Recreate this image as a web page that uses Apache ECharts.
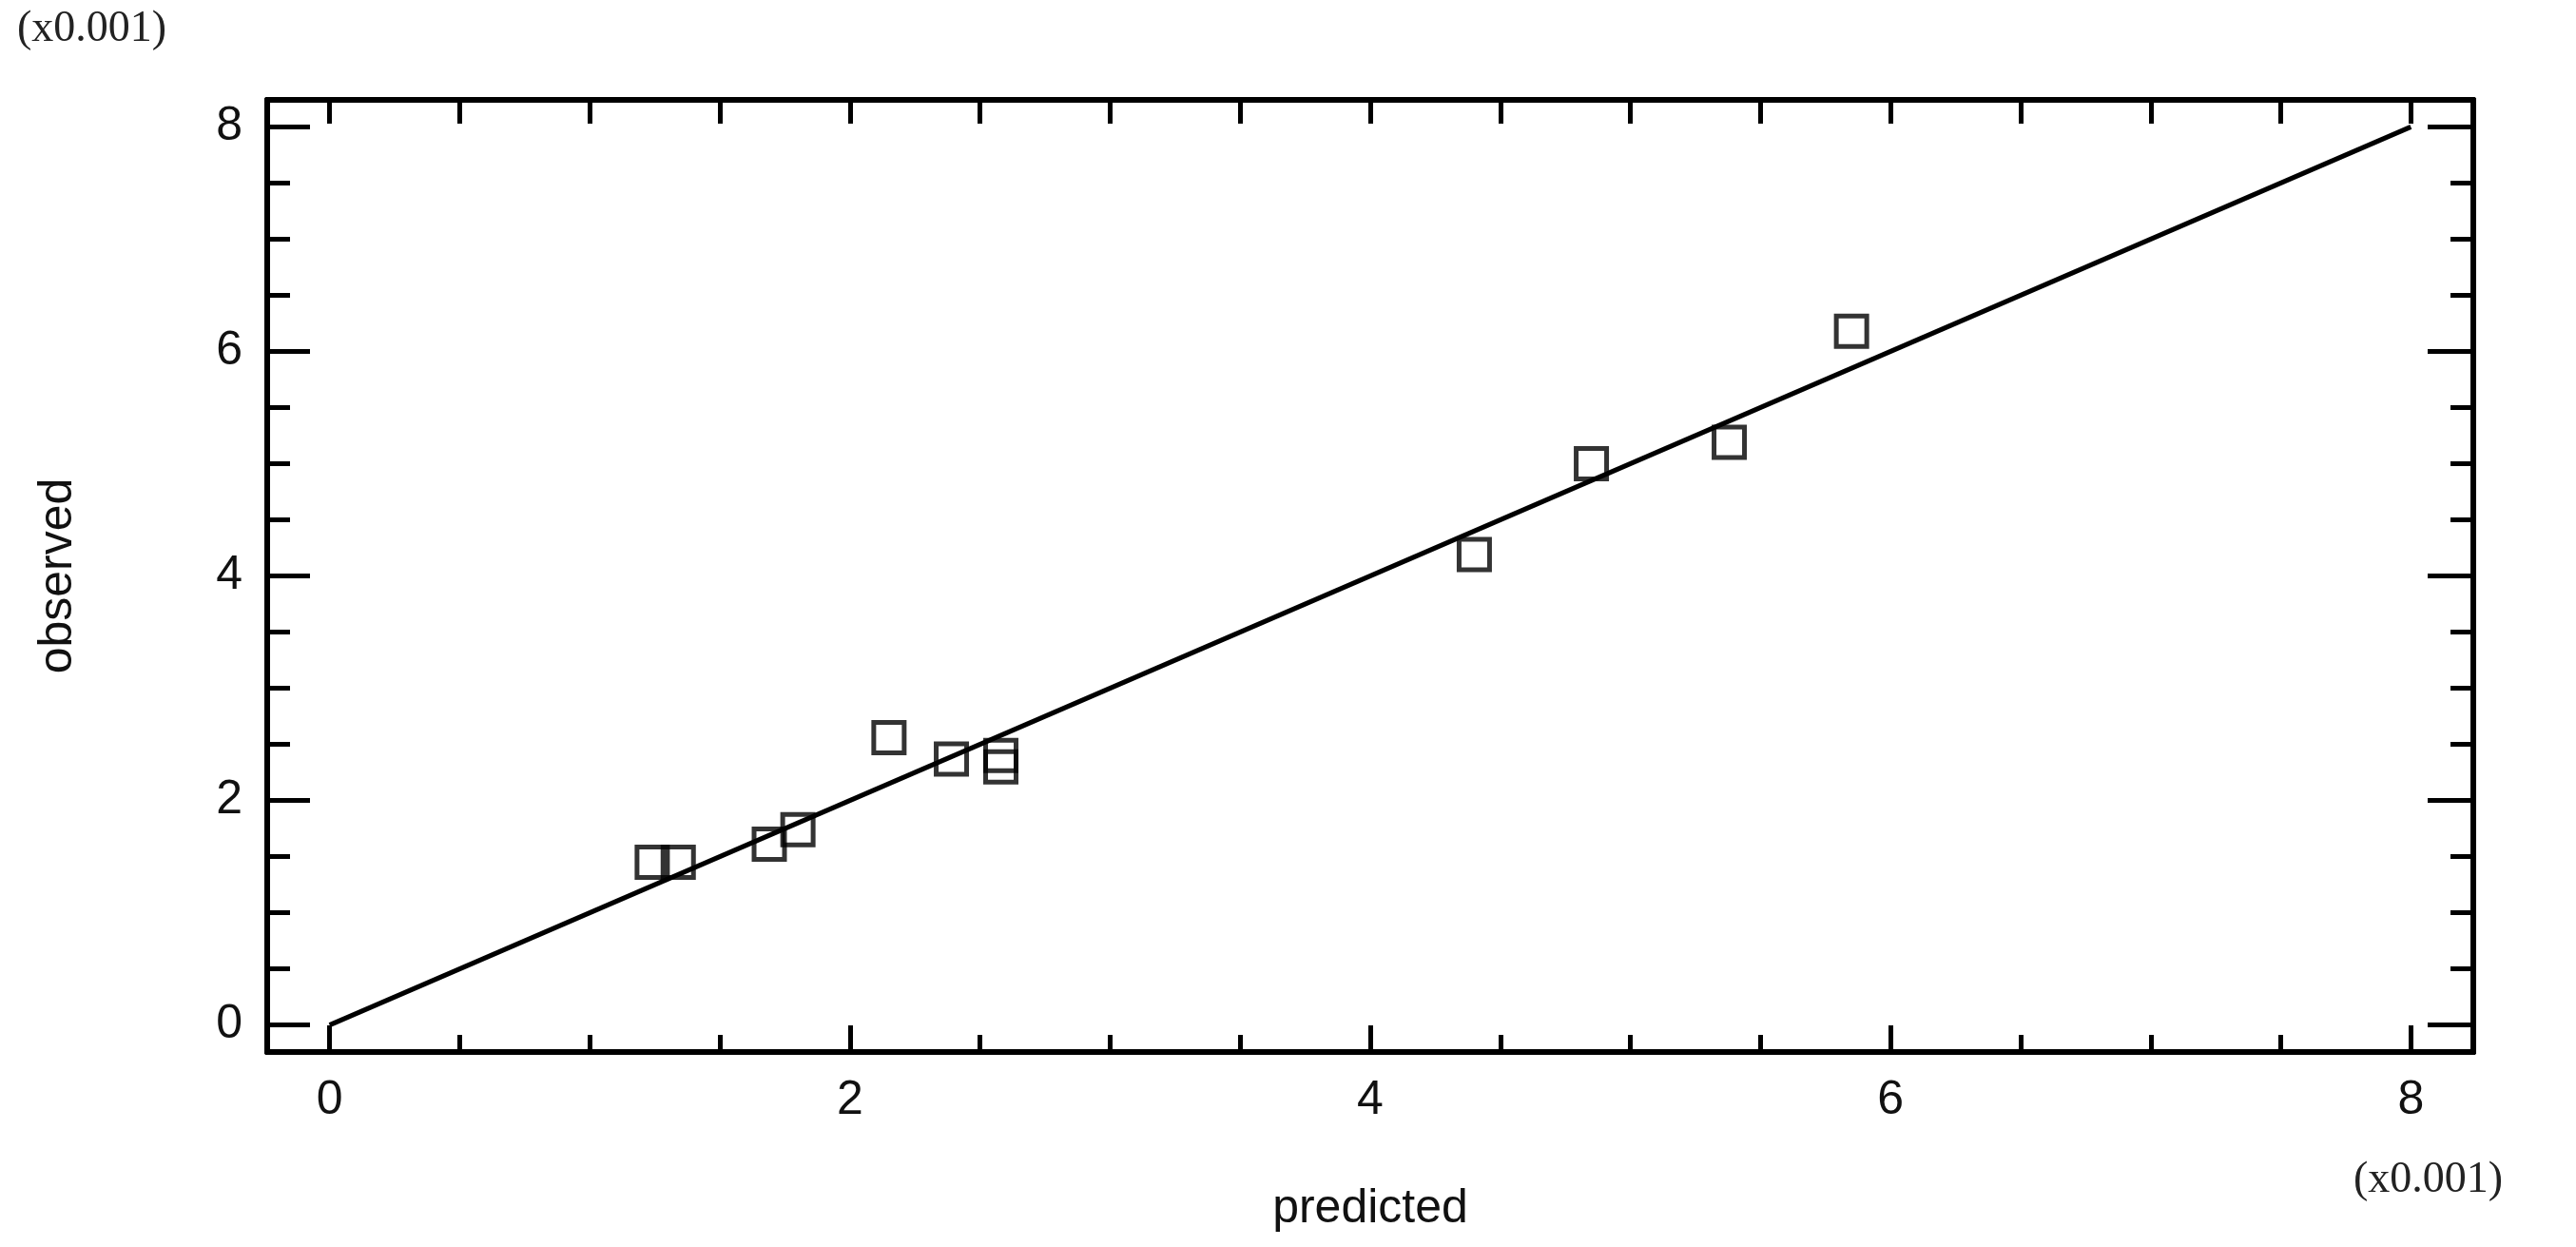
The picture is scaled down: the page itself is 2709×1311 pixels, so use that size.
<!DOCTYPE html>
<html><head><meta charset="utf-8">
<script src="https://cdn.jsdelivr.net/npm/echarts@6/dist/echarts.min.js"></script>
<style>html,body{margin:0;background:#fff}#c{width:2709px;height:1311px}</style>
</head><body><div id="c"></div>
<script>
const predicted = [1.24,1.34,1.69,1.80,2.15,2.39,2.58,2.58,4.40,4.85,5.38,5.85];
const observed  = [1.45,1.45,1.61,1.74,2.56,2.37,2.40,2.30,4.19,5.00,5.19,6.18];
const fitLine = [[0,0],[8,8]];
const majorTicks = [0,2,4,6,8];
const minorTicks = [0,0.5,1,1.5,2,2.5,3,3.5,4,4.5,5,5.5,6,6.5,7,7.5,8];
const axisMin = -0.24, axisMax = 8.24;

const chart = echarts.init(document.getElementById('c'));
const font = 'Liberation Sans, Arial, sans-serif';
function ax(pos, len, vals, labels, extra){
  return Object.assign({
    type:'value', position:pos, min:axisMin, max:axisMax,
    splitLine:{show:false},
    axisLine:{show:true, onZero:false, lineStyle:{color:'#000', width:6}},
    axisTick:{show:true, inside:true, length:len, customValues:vals, lineStyle:{color:'#000', width:5}},
    axisLabel:labels ? {show:true, customValues:majorTicks, fontSize:50, color:'#111', fontFamily:font, margin:26} : {show:false}
  }, extra||{});
}
chart.setOption({
  animation:false,
  grid:{left:281, right:108, top:105, bottom:205},
  xAxis:[
    ax('bottom',28,majorTicks,true,{name:'predicted', nameLocation:'middle', nameGap:140, nameTextStyle:{fontSize:50,color:'#111',fontFamily:font}}),
    ax('bottom',18,minorTicks,false),
    ax('top',25,minorTicks,false)
  ],
  yAxis:[
    ax('left',45,majorTicks,true,{name:'observed', nameLocation:'middle', nameGap:195, nameTextStyle:{fontSize:50,color:'#111',fontFamily:font}}),
    ax('left',24,minorTicks,false),
    ax('right',48,majorTicks,false),
    ax('right',24,minorTicks,false)
  ],
  graphic:[
    {type:'text', left:18, top:8, style:{text:'(x0.001)', font:'46px "Liberation Serif", serif', fill:'#222'}},
    {type:'text', left:2475, top:1218, style:{text:'(x0.001)', font:'46px "Liberation Serif", serif', fill:'#222'}}
  ],
  series:[
    {type:'line', data:fitLine, showSymbol:false, lineStyle:{color:'#000', width:5}, z:2},
    {type:'scatter', data:predicted.map((p,i)=>[p,observed[i]]), symbol:'rect', symbolSize:32,
     itemStyle:{color:'rgba(255,255,255,0)', borderColor:'#000', borderWidth:5}, z:3}
  ]
});
</script></body></html>
